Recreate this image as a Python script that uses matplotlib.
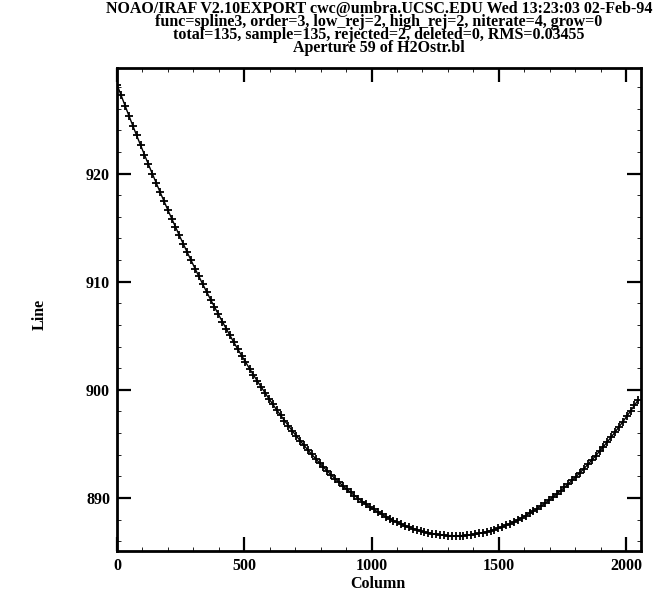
import matplotlib
matplotlib.use("Agg")
import matplotlib.pyplot as plt
from matplotlib.ticker import MultipleLocator

# data (column, line)
column = [1, 16, 32, 47, 62, 77, 93, 108, 123, 139, 154, 169, 184, 200, 215, 230,
          245, 261, 276, 291, 307, 322, 337, 352, 368, 383, 398, 414, 429, 444, 459,
          475, 490, 505, 521, 536, 551, 566, 582, 597, 612, 627, 643, 658, 673, 689,
          704, 719, 734, 750, 765, 780, 796, 811, 826, 841, 857, 872, 887, 903, 918,
          933, 948, 964, 979, 994, 1009, 1025, 1040, 1055, 1071, 1086, 1101, 1116,
          1132, 1147, 1162, 1178, 1193, 1208, 1223, 1239, 1254, 1269, 1285, 1300,
          1315, 1330, 1346, 1361, 1376, 1391, 1407, 1422, 1437, 1453, 1468, 1483,
          1498, 1514, 1529, 1544, 1560, 1575, 1590, 1605, 1621, 1636, 1651, 1666,
          1682, 1697, 1712, 1728, 1743, 1758, 1773, 1789, 1804, 1819, 1835, 1850,
          1865, 1880, 1896, 1911, 1926, 1942, 1957, 1972, 1987, 2003, 2018, 2033, 2048]
line = [928.18, 927.25, 926.26, 925.35, 924.44, 923.55, 922.61, 921.74, 920.88, 919.98,
        919.14, 918.31, 917.49, 916.63, 915.84, 915.06, 914.28, 913.47, 912.72, 911.98,
        911.20, 910.48, 909.77, 909.07, 908.34, 907.66, 907.00, 906.30, 905.66, 905.03,
        904.40, 903.75, 903.15, 902.56, 901.95, 901.38, 900.82, 900.28, 899.70, 899.18,
        898.67, 898.16, 897.64, 897.16, 896.69, 896.20, 895.75, 895.31, 894.88, 894.44,
        894.03, 893.64, 893.23, 892.86, 892.49, 892.14, 891.78, 891.45, 891.13, 890.80,
        890.51, 890.22, 889.94, 889.66, 889.41, 889.16, 888.93, 888.70, 888.48, 888.28,
        888.08, 887.91, 887.74, 887.58, 887.43, 887.29, 887.17, 887.05, 886.94, 886.85,
        886.77, 886.70, 886.64, 886.59, 886.55, 886.52, 886.51, 886.50, 886.51, 886.52,
        886.55, 886.59, 886.64, 886.71, 886.78, 886.87, 886.96, 887.07, 887.19, 887.33,
        887.47, 887.62, 887.79, 887.96, 888.15, 888.35, 888.57, 888.78, 889.01, 889.25,
        889.52, 889.79, 890.06, 890.37, 890.66, 890.97, 891.29, 891.64, 891.98, 892.33,
        892.72, 893.10, 893.48, 893.88, 894.32, 894.74, 895.17, 895.64, 896.09, 896.56,
        897.03, 897.55, 898.05, 898.56, 899.08]

title_lines = [
    "NOAO/IRAF V2.10EXPORT cwc@umbra.UCSC.EDU Wed 13:23:03 02-Feb-94",
    "func=spline3, order=3, low_rej=2, high_rej=2, niterate=4, grow=0",
    "total=135, sample=135, rejected=2, deleted=0, RMS=0.03455",
    "Aperture 59 of H2Ostr.bl",
]

plt.rcParams['font.family'] = ['Liberation Serif', 'DejaVu Serif']
plt.rcParams['font.weight'] = 'bold'

fig = plt.figure(figsize=(6.57, 5.93), dpi=100)
ax = fig.add_axes([0.178, 0.071, 0.797, 0.815])

# fitted curve + data points
ax.plot(column, line, '-', color='black', lw=1.0)
ax.plot(column, line, '+', color='black', ms=6, mew=1.3)

ax.set_xlim(0, 2057)
ax.set_ylim(885.1, 929.8)

ax.xaxis.set_major_locator(MultipleLocator(500))
ax.yaxis.set_major_locator(MultipleLocator(10))
ax.xaxis.set_minor_locator(MultipleLocator(100))
ax.yaxis.set_minor_locator(MultipleLocator(2))
ax.tick_params(which='major', direction='in', length=10, width=1.6,
               top=True, right=True, labelsize=11.5, pad=5)
ax.tick_params(which='minor', direction='in', length=3, width=0.6,
               top=True, right=True)
for lab in ax.get_xticklabels() + ax.get_yticklabels():
    lab.set_fontweight('bold')
for sp in ax.spines.values():
    sp.set_linewidth(2.0)

fig.text(0.177 + 0.797 / 2, 1 - 584 / 593, "Column", ha='center', va='center',
         fontsize=11.5, fontweight='bold')
fig.text(40 / 657, 0.47, "Line", rotation=90, ha='center', va='center',
         fontsize=11.5, fontweight='bold')

# IRAF header as one block of tightly spaced lines
cx = 0.178 + 0.797 / 2
fig.text(cx, 1 - 1 / 593, "\n".join(title_lines), ha='center', va='top',
         ma='center', fontsize=11.5, fontweight='bold', linespacing=0.76)

fig.savefig("out.png", dpi=100)
